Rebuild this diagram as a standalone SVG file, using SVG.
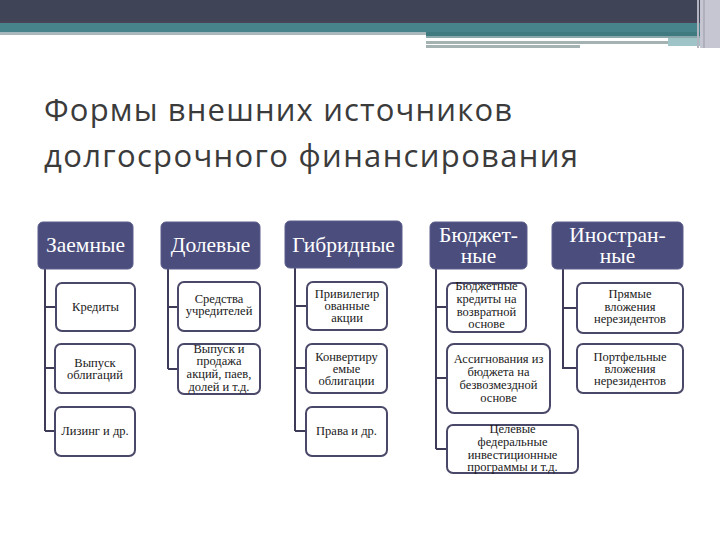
<svg xmlns="http://www.w3.org/2000/svg" width="720" height="540" viewBox="0 0 720 540">
<style>
.title{font-family:"Open Sans","Noto Sans","DejaVu Sans",sans-serif;font-size:31px;fill:#3b3b3b}
.hbox{fill:#4b4d7d;stroke:#5c5e8c;stroke-width:1}
.htxt{font-family:"Liberation Serif","Times New Roman",serif;font-size:21.5px;fill:#ffffff;text-anchor:middle}
.cbox{fill:#ffffff;stroke:#4a4868;stroke-width:2}
.ctxt{font-family:"Liberation Serif","Times New Roman",serif;font-size:12.5px;fill:#1a1a1a;text-anchor:middle}
.conn{fill:none;stroke:#3e3b58;stroke-width:2}
</style>
<rect x="0" y="0" width="720" height="540" fill="#ffffff"/>
<g id="topbar">
<rect x="0" y="0" width="700" height="23" fill="#3f4456"/>
<rect x="0" y="21" width="700" height="2" fill="#4a4258"/>
<rect x="0" y="23" width="700" height="9" fill="#46838a"/>
<rect x="0" y="32" width="426" height="3" fill="#a9b8bd"/>
<rect x="426" y="32" width="274" height="4" fill="#3f7a80"/>
<rect x="426" y="36" width="274" height="2" fill="#8aa8ac"/>
<rect x="426" y="41" width="242" height="3" fill="#a4b2b2"/>
<rect x="668" y="38" width="32" height="8" fill="#9ec4c8"/>
<rect x="426" y="45" width="154" height="3" fill="#a4b2b2"/>
<rect x="700" y="0" width="20" height="48" fill="#c6c6d2"/>
<rect x="697" y="0" width="2" height="48" fill="#b4b4c0"/>
<rect x="703" y="0" width="2" height="48" fill="#b0b0bc"/>
</g>
<g id="title">
<text class="title" x="44" y="121" textLength="468" lengthAdjust="spacing">Формы внешних источников</text>
<text class="title" x="44" y="167" textLength="534" lengthAdjust="spacing">долгосрочного финансирования</text>
</g>
<g id="connectors">
<path class="conn" d="M45,269 V431 M45,307 H56 M45,368 H55 M45,431 H55"/>
<path class="conn" d="M168,269 V369 M168,307 H178 M168,369 H178"/>
<path class="conn" d="M295,268 V431 M295,306 H307 M295,368 H306 M295,431 H306"/>
<path class="conn" d="M436,269 V449 M436,307 H447 M436,378 H447 M436,449 H447"/>
<path class="conn" d="M563,269 V369 M563,308 H577 M563,368 H577"/>
</g>
<g id="h-zaemnye"><rect class="hbox" x="38" y="222" width="95" height="47" rx="5"/><text class="htxt" x="85.5" y="252">Заемные</text></g>
<g id="h-dolevye"><rect class="hbox" x="161" y="222" width="99" height="47" rx="5"/><text class="htxt" x="210.5" y="252">Долевые</text></g>
<g id="h-gibridnye"><rect class="hbox" x="285" y="221" width="117" height="47" rx="5"/><text class="htxt" x="343.5" y="252">Гибридные</text></g>
<g id="h-budzhetnye"><rect class="hbox" x="430" y="222" width="97" height="47" rx="5"/><text class="htxt" x="478.5" y="242">Бюджет-</text><text class="htxt" x="478.5" y="263">ные</text></g>
<g id="h-inostrannye"><rect class="hbox" x="552" y="222" width="131" height="47" rx="5"/><text class="htxt" x="617.5" y="242">Иностран-</text><text class="htxt" x="617.5" y="263">ные</text></g>
<g id="c-krediti"><rect class="cbox" x="56" y="283" width="79" height="48" rx="6"/><text class="ctxt" x="95.5" y="311">Кредиты</text></g>
<g id="c-vypusk-obl"><rect class="cbox" x="55" y="344" width="80" height="49" rx="6"/><text class="ctxt" x="95" y="367">Выпуск</text><text class="ctxt" x="95" y="379">облигаций</text></g>
<g id="c-lizing"><rect class="cbox" x="55" y="407" width="80" height="49" rx="6"/><text class="ctxt" x="95" y="435">Лизинг и др.</text></g>
<g id="c-sredstva"><rect class="cbox" x="178" y="282" width="82" height="49" rx="6"/><text class="ctxt" x="219" y="303">Средства</text><text class="ctxt" x="219" y="315">учредителей</text></g>
<g id="c-vypusk-akc"><rect class="cbox" x="178" y="344" width="82" height="50" rx="6"/><text class="ctxt" x="219" y="353">Выпуск и</text><text class="ctxt" x="219" y="365">продажа</text><text class="ctxt" x="219" y="378">акций, паев,</text><text class="ctxt" x="219" y="391">долей и т.д.</text></g>
<g id="c-privileg"><rect class="cbox" x="307" y="282" width="80" height="48" rx="6"/><text class="ctxt" x="347" y="298">Привилегир</text><text class="ctxt" x="347" y="310">ованные</text><text class="ctxt" x="347" y="322">акции</text></g>
<g id="c-konvert"><rect class="cbox" x="306" y="344" width="81" height="49" rx="6"/><text class="ctxt" x="346.5" y="361">Конвертиру</text><text class="ctxt" x="346.5" y="373">емые</text><text class="ctxt" x="346.5" y="385">облигации</text></g>
<g id="c-prava"><rect class="cbox" x="306" y="407" width="81" height="49" rx="6"/><text class="ctxt" x="346.5" y="435">Права и др.</text></g>
<g id="c-budzh-kred"><rect class="cbox" x="447" y="283" width="79" height="49" rx="6"/><text class="ctxt" x="486.5" y="290">Бюджетные</text><text class="ctxt" x="486.5" y="303">кредиты на</text><text class="ctxt" x="486.5" y="316">возвратной</text><text class="ctxt" x="486.5" y="328">основе</text></g>
<g id="c-assign"><rect class="cbox" x="447" y="344" width="103" height="69" rx="7"/><text class="ctxt" x="498.5" y="363">Ассигнования из</text><text class="ctxt" x="498.5" y="376">бюджета на</text><text class="ctxt" x="498.5" y="389">безвозмездной</text><text class="ctxt" x="498.5" y="402">основе</text></g>
<g id="c-celevye"><rect class="cbox" x="447" y="425" width="131" height="48" rx="6"/><text class="ctxt" x="512.5" y="433">Целевые</text><text class="ctxt" x="512.5" y="446">федеральные</text><text class="ctxt" x="512.5" y="459">инвестиционные</text><text class="ctxt" x="512.5" y="471">программы и т.д.</text></g>
<g id="c-pryamye"><rect class="cbox" x="577" y="283" width="106" height="50" rx="6"/><text class="ctxt" x="630" y="298">Прямые</text><text class="ctxt" x="630" y="311">вложения</text><text class="ctxt" x="630" y="323">нерезидентов</text></g>
<g id="c-portfel"><rect class="cbox" x="577" y="344" width="106" height="49" rx="6"/><text class="ctxt" x="630" y="361">Портфельные</text><text class="ctxt" x="630" y="373">вложения</text><text class="ctxt" x="630" y="385">нерезидентов</text></g>
</svg>
